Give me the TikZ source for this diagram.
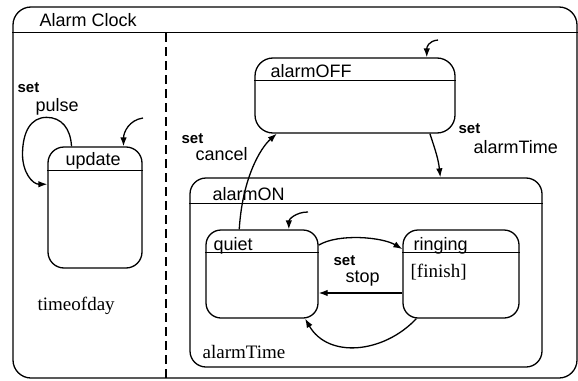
\documentclass[tikz,border=0pt]{standalone}
\usepackage{fontspec}
\setmainfont{Liberation Sans}
\newfontfamily\guardfont{Liberation Serif}
\usepackage{tikz}
\usetikzlibrary{arrows.meta}

\begin{document}
\begin{tikzpicture}[
        x=1pt, y=-1pt,
        >={Latex[length=9pt,width=6.5pt]},
        line width=1.3pt,
        statebox/.style={draw, rounded corners=#1, minimum width=0pt, minimum height=0pt, inner sep=0pt},
        statebox/.default=16pt,
        lbl/.style={inner sep=0pt, anchor=base west, font=\fontsize{18}{20}\selectfont},
        trig/.style={inner sep=0pt, anchor=base west, font=\fontsize{15}{17}\selectfont\bfseries},
        guard/.style={inner sep=0pt, anchor=base west, font=\fontsize{19}{21}\selectfont\guardfont},
        divider/.style={dash pattern=on 9pt off 5pt}
    ]
        \useasboundingbox (0,0) rectangle (578,380);

        % states
        \node[statebox=18pt, minimum width=564, minimum height=371] (clock) at (295,192.5) {};
        \node[statebox, minimum width=94, minimum height=121] (update) at (95,207.5) {};
        \node[statebox=18pt, minimum width=200, minimum height=75] (alarmOFF) at (355,95.5) {};
        \node[statebox, minimum width=352, minimum height=189] (alarmON) at (366,272.5) {};
        \node[statebox=15pt, minimum width=112, minimum height=88] (quiet) at (262,274) {};
        \node[statebox=15pt, minimum width=116, minimum height=88] (ringing) at (461,274) {};

        % header lines
        \draw ([yshift=-26pt]clock.north west) -- ([yshift=-26pt]clock.north east);
        \draw ([yshift=-24pt]update.north west) -- ([yshift=-24pt]update.north east);
        \draw ([yshift=-23pt]alarmOFF.north west) -- ([yshift=-23pt]alarmOFF.north east);
        \draw ([yshift=-26pt]alarmON.north west) -- ([yshift=-26pt]alarmON.north east);
        \draw ([yshift=-23pt]quiet.north west) -- ([yshift=-23pt]quiet.north east);
        \draw ([yshift=-23pt]ringing.north west) -- ([yshift=-23pt]ringing.north east);

        \coordinate (split) at (166,33);
        \draw[divider] (split) -- (split |- clock.south);

        % names
        \node[lbl] (tClock) at (39,26) {Alarm Clock};
        \node[lbl] (tUpdate) at (65,165) {update};
        \node[lbl] (tOff) at (270,77) {alarmOFF};
        \node[lbl] (tOn) at (212,200) {alarmON};
        \node[lbl] (tQuiet) at (213,250) {quiet};
        \node[lbl] (tRinging) at (413,250) {ringing};
        \node[guard] (tDay) at (37,310) {timeofday};
        \node[guard] (tOnVar) at (202,358) {alarmTime};
        \node[guard] (tFinish) at (410,277) {[finish]};

        % triggers
        \node[trig] (setPulse) at (17,92) {set};
        \node[lbl] (pulse) at (35,111) {pulse};
        \node[trig] (setCancel) at (181,143) {set};
        \node[lbl] (cancel) at (195,160) {cancel};
        \node[trig] (setTime) at (458,133) {set};
        \node[lbl] (alarmTime) at (473,153) {alarmTime};
        \node[trig] (setStop) at (333,265) {set};
        \node[lbl] (stop) at (345,282) {stop};

        % initial arrows
        \coordinate (updateInit) at (143,118);
        \coordinate (offInit) at (438,40);
        \coordinate (quietInit) at (308,212);
        \draw[->] (updateInit) .. controls +(-14,2) and +(0,-14) .. (update.65);
        \draw[->] (offInit) .. controls +(-10,1) and +(0,-10) .. (alarmOFF.28);
        \draw[->] (quietInit) .. controls +(-12,0) and +(0,-10) .. (quiet.59);

        % transitions
        \draw[->] (update.111) .. controls +(-1,-18) and +(15,0) .. ++(-25,-29)
            .. controls +(-16,0) and +(0,-22) .. ++(-24,37)
            .. controls +(0,18) and +(-15,0) .. (update.154);
        \draw[->] (alarmOFF.-27) .. controls +(6,18) and +(-2,-18) .. (alarmON.52);
        \draw[->] (quiet.117) .. controls +(3,-50) and +(-17,15) .. (alarmOFF.206);
        \draw[->] (quiet.27) .. controls +(20,-12) and +(-20,-12) .. (ringing.157);
        \draw[->] ([yshift=-19pt]ringing.west) -- ([yshift=-19pt]quiet.east);
        \draw[->] (ringing.225) .. controls +(-33,35) and +(23,40) .. (quiet.-46);
    \end{tikzpicture}
\end{document}
